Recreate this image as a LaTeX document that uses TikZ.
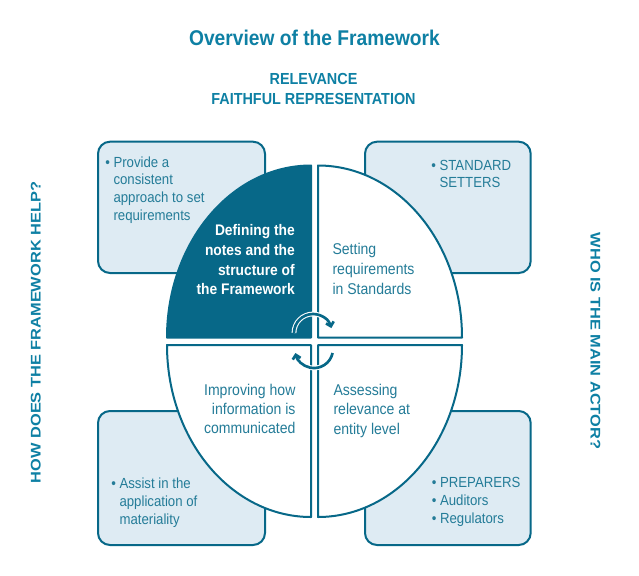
\documentclass[tikz,border=0pt]{standalone}
\usepackage{fontspec}
\setmainfont{Liberation Sans}[FakeStretch=0.9]
\newfontfamily\sidefont{Liberation Sans}[FakeStretch=1.17]
\usepackage{tikz}
\usetikzlibrary{arrows.meta}

\definecolor{frameteal}{RGB}{7,104,136}
\definecolor{labelteal}{RGB}{14,128,164}
\definecolor{textteal}{RGB}{36,124,152}
\definecolor{boxblue}{RGB}{222,235,243}

\newcommand{\bulletgap}{\phantom{\textbullet\ }}

\tikzset{
  infobox/.style={draw=frameteal, fill=boxblue, line width=1.5pt, rounded corners=9pt},
  quarter/.style={draw=frameteal, fill=white, line width=1.5pt, line join=round},
  boxtext/.style={text=textteal, inner sep=0pt, align=left, font=\fontsize{11}{13.4}\selectfont},
  quartertext/.style={text=textteal, inner sep=0pt, font=\fontsize{11.7}{14.6}\selectfont},
  sidelabel/.style={text=labelteal, inner sep=0pt, font=\sidefont\bfseries\fontsize{10.5}{12}\selectfont},
  turnwhite/.style={draw=white, line width=3.6pt},
  turnarrow/.style={draw=frameteal, line width=2pt, -{Straight Barb[length=3pt, width=6pt]}}
}

\begin{document}
\begin{tikzpicture}[x=0.75pt,y=0.75pt,yscale=-1,xscale=1]
\path[use as bounding box, fill=white] (0,0) rectangle (639,575);

%Rounded Rect [id:top left box]
\draw[infobox] (98,141.7) rectangle (265,273);

%Rounded Rect [id:top right box]
\draw[infobox] (365,141.7) rectangle (530.7,273);

%Rounded Rect [id:bottom left box]
\draw[infobox] (98,411) rectangle (265,545);

%Rounded Rect [id:bottom right box]
\draw[infobox] (365,411) rectangle (530.7,545);


%Shape: Quarter Ellipse [id:top left]
\draw[quarter, fill=frameteal] (311,337.5) -- (167,337.5) arc[start angle=180, end angle=270, x radius=144, y radius=172] -- cycle;

%Shape: Quarter Ellipse [id:top right]
\draw[quarter] (318,337.5) -- (318,165.5) arc[start angle=270, end angle=360, x radius=144, y radius=172] -- cycle;

%Shape: Quarter Ellipse [id:bottom left]
\draw[quarter] (311,345) -- (167,345) arc[start angle=180, end angle=90, x radius=144, y radius=172] -- cycle;

%Shape: Quarter Ellipse [id:bottom right]
\draw[quarter] (318,345) -- (462,345) arc[start angle=0, end angle=90, x radius=144, y radius=172] -- cycle;


%Curve Lines [id:upper turn]
\draw[turnwhite] (294,333) arc[start angle=180, end angle=345, radius=19];
\draw[turnarrow] (294,333) arc[start angle=180, end angle=345, radius=19];

%Curve Lines [id:lower turn]
\draw[turnwhite] (332.6,353) arc[start angle=12, end angle=168, radius=19];
\draw[turnarrow] (332.6,353) arc[start angle=12, end angle=168, radius=19];


% Text Node
\node[text=labelteal, inner sep=0pt, font=\bfseries\fontsize{16}{19}\selectfont] (title) at (314.5,37.5) {Overview of the Framework};
% Text Node
\node[text=labelteal, inner sep=0pt, align=center, anchor=base, font=\bfseries\fontsize{12}{15.5}\selectfont] (qualities) at (313.5,104.7) {RELEVANCE\\FAITHFUL REPRESENTATION};
% Text Node
\node[sidelabel, rotate=90] (howhelp) at (35.8,332.5) {HOW DOES THE FRAMEWORK HELP?};
% Text Node
\node[sidelabel, rotate=-90] (mainactor) at (595.5,341) {WHO IS THE MAIN ACTOR?};

% Text Node
\node[boxtext, anchor=base west] (approach) at (105,220.6) {\textbullet\ Provide a\\\bulletgap consistent\\\bulletgap approach to set\\\bulletgap requirements};
% Text Node
\node[boxtext, anchor=base west] (setters) at (431,187.9) {\textbullet\ STANDARD\\\bulletgap SETTERS};
% Text Node
\node[boxtext, anchor=base west, font=\fontsize{11}{13.6}\selectfont] (assist) at (111,524.3) {\textbullet\ Assist in the\\\bulletgap application of\\\bulletgap materiality};
% Text Node
\node[boxtext, anchor=base west] (preparers) at (431.5,523.7) {\textbullet\ PREPARERS\\\textbullet\ Auditors\\\textbullet\ Regulators};

% Text Node
\node[quartertext, text=white, align=right, anchor=base east, font=\bfseries\fontsize{11.5}{14.85}\selectfont] (defining) at (295,294.9) {Defining the\\notes and the\\structure of\\the Framework};
% Text Node
\node[quartertext, align=left, anchor=base west, font=\fontsize{11.7}{15}\selectfont] (setting) at (332.3,294) {Setting\\requirements\\in Standards};
% Text Node
\node[quartertext, align=right, anchor=base east, font=\fontsize{11.7}{14.4}\selectfont] (improving) at (295.7,433.4) {Improving how\\information is\\communicated};
% Text Node
\node[quartertext, align=left, anchor=base west, font=\fontsize{11.7}{14.4}\selectfont] (assessing) at (333.3,434) {Assessing\\relevance at\\entity level};

\end{tikzpicture}
\end{document}
